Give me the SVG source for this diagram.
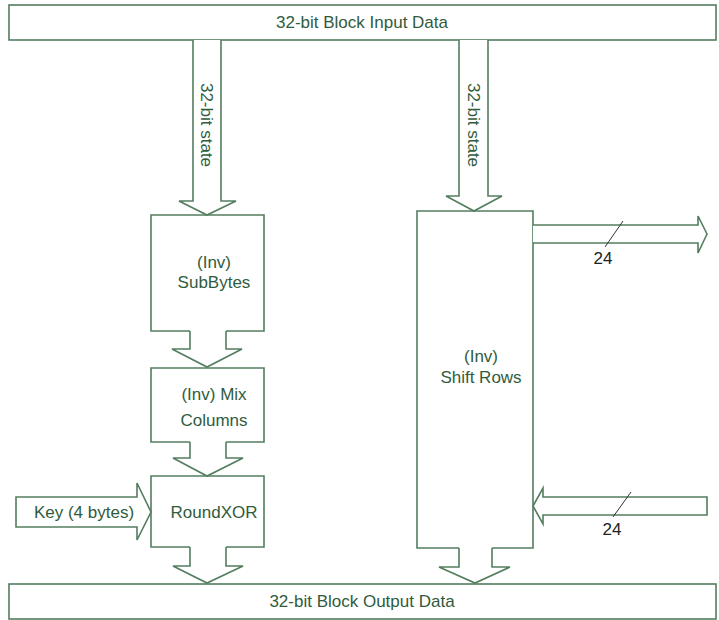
<svg xmlns="http://www.w3.org/2000/svg" width="719" height="620" viewBox="0 0 719 620">
<style>
.ln{fill:none;stroke:#537d5f;stroke-width:1.6;stroke-linejoin:miter}
.ar{fill:#fff;stroke:#537d5f;stroke-width:1.6;stroke-linejoin:miter}
.t{font-family:"Liberation Sans",Arial,sans-serif;font-size:17px;fill:#305c3d;text-anchor:middle}
.k{font-family:"Liberation Sans",Arial,sans-serif;font-size:17px;fill:#222;text-anchor:middle}
.sl{stroke:#333;stroke-width:1;fill:none}
</style>
<rect width="719" height="620" fill="#fff"/>
<g id="input">
<rect class="ln" x="9" y="5" width="707" height="35"/>
<text class="t" x="362" y="28">32-bit Block Input Data</text>
</g>
<g id="output">
<rect class="ln" x="9" y="584" width="707" height="35"/>
<text class="t" x="362" y="607">32-bit Block Output Data</text>
</g>
<g id="subbytes">
<path class="ln" d="M190,331 H151 V215 H264 V331 H226"/>
<text class="t" x="214" y="268">(Inv)</text>
<text class="t" x="214" y="288">SubBytes</text>
</g>
<g id="mixcolumns">
<path class="ln" d="M190,442 H151 V368 H264 V442 H226"/>
<text class="t" x="214" y="400">(Inv) Mix</text>
<text class="t" x="214" y="426">Columns</text>
</g>
<g id="roundxor">
<path class="ln" d="M190,547 H151 V476 H264 V547 H226"/>
<text class="t" x="214" y="518">RoundXOR</text>
</g>
<g id="shiftrows">
<path class="ln" d="M459,548 H417 V211 H533 V548 H492"/>
<text class="t" x="481" y="362">(Inv)</text>
<text class="t" x="481" y="383">Shift Rows</text>
</g>
<g id="connectors">
<path class="ar" d="M193,40 V201 H179 L207,215 L236,201 H221 V40"/>
<text class="t" transform="translate(206,125) rotate(90)" dominant-baseline="central">32-bit state</text>
<path class="ar" d="M459,40 V196 H446 L474,211 L502,196 H488 V40"/>
<text class="t" transform="translate(473,125) rotate(90)" dominant-baseline="central">32-bit state</text>
<path class="ar" d="M190,331 V349 H172 L207,367 L242,349 H226 V331"/>
<path class="ar" d="M190,442 V458 H173 L207,476 L243,458 H226 V442"/>
<path class="ar" d="M190,547 V566 H173 L207,583 L243,566 H226 V547"/>
<path class="ar" d="M459,548 V567 H439 L475,583 L510,567 H492 V548"/>
<path class="ar" d="M16,497 H137 V483 L151,512 L137,540 V527 H16 Z"/>
<text class="t" x="84" y="518">Key (4 bytes)</text>
<path class="ar" d="M533,225 H698 V216 L707,234 L698,253 V243 H533"/>
<line class="sl" x1="623" y1="221" x2="605" y2="247"/>
<text class="k" x="603" y="264">24</text>
<path class="ar" d="M707,497 H543 V488 L533,506 L543,524 V515 H707 Z"/>
<line class="sl" x1="631" y1="492" x2="613" y2="517"/>
<text class="k" x="612" y="535">24</text>
</g>
</svg>
